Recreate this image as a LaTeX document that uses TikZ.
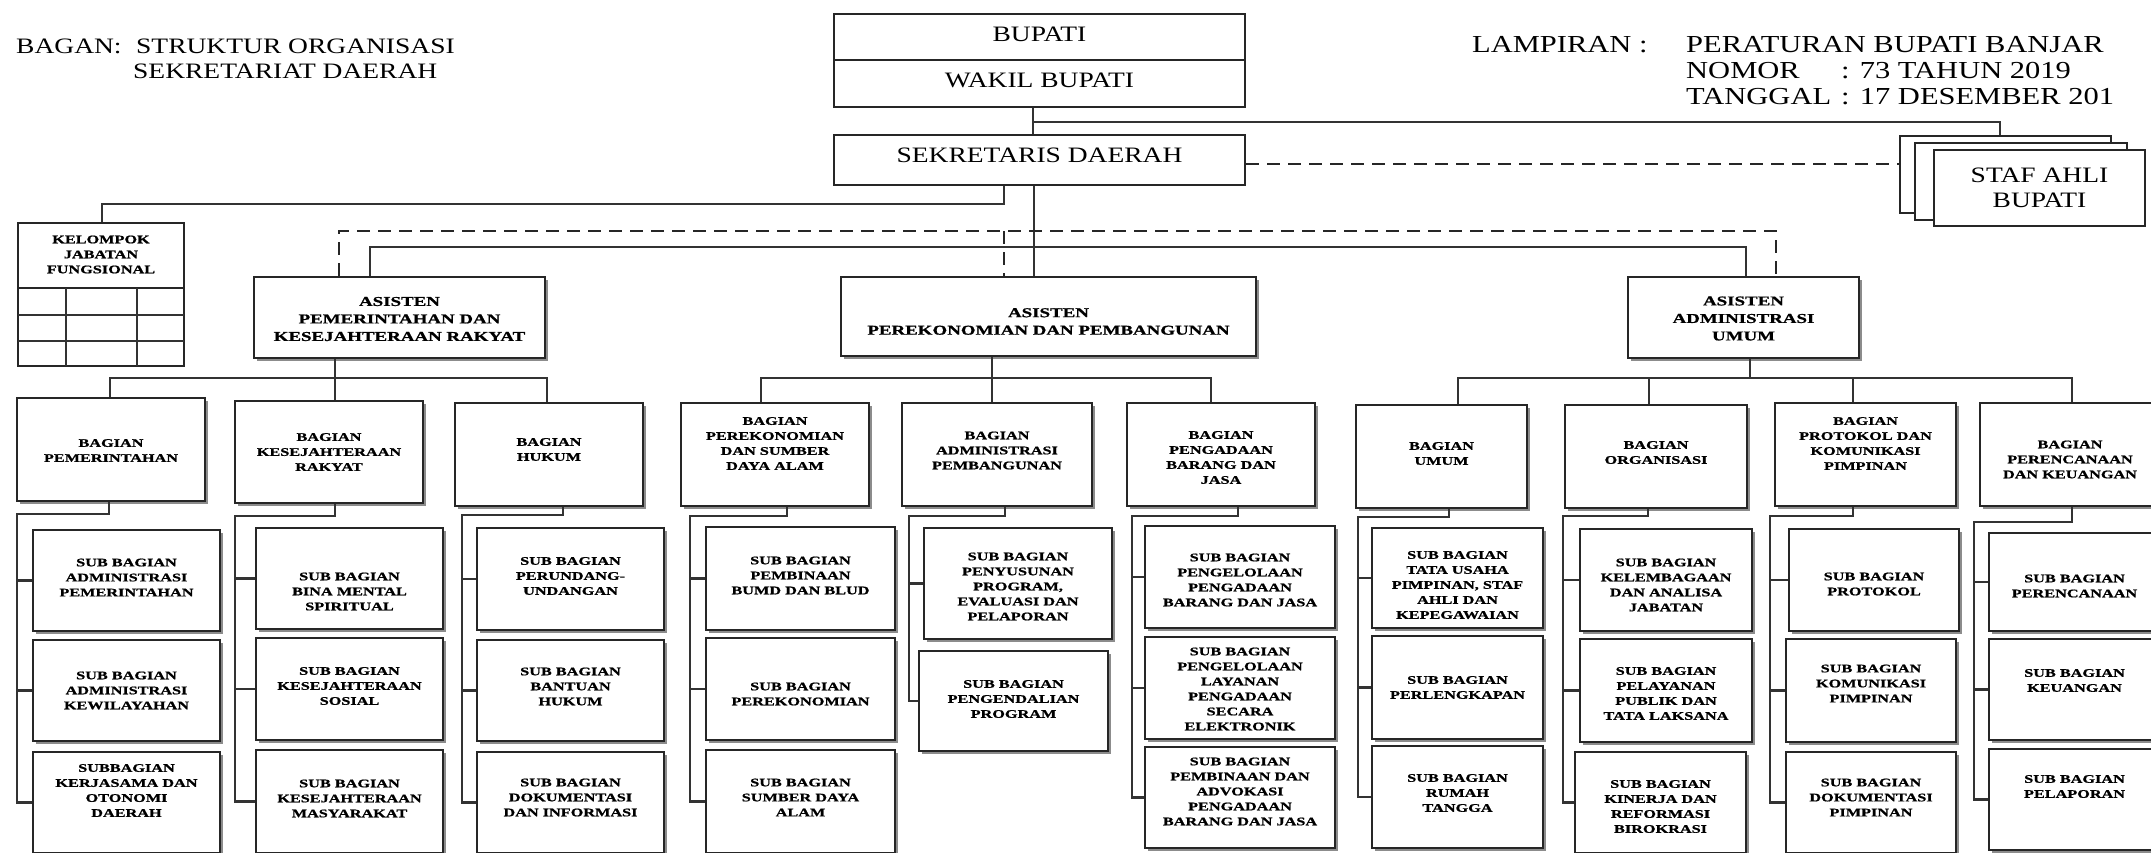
\documentclass[tikz,border=0pt]{standalone}
\usepackage{fontspec}
\setmainfont{Liberation Serif}
\newfontfamily\hdfont[FakeStretch=1.25]{Liberation Serif}
\newfontfamily\bxfont[FakeStretch=1.4, FakeBold=1]{Liberation Serif}
\usetikzlibrary{shadows}
\tikzset{
  conn/.style={line width=2.4pt, draw=black!80},
  dsh/.style={line width=2.4pt, draw=black!85, dash pattern=on 13pt off 8pt},
  plain/.style={rectangle, draw=black!85, line width=2.6pt, fill=white, inner sep=0pt},
  sbox/.style={plain, drop shadow={shadow xshift=3pt, shadow yshift=-3pt, fill=black!45, opacity=1}},
  btxt/.style={font=\bxfont\bfseries\fontsize{11.6}{15}\selectfont, align=center, inner sep=0pt},
  atxt/.style={font=\bxfont\bfseries\fontsize{13.5}{17.5}\selectfont, align=center, inner sep=0pt},
  hdt/.style={font=\hdfont\fontsize{22}{25}\selectfont, align=center, inner sep=0pt},
  hd/.style={font=\hdfont\fontsize{22}{26}\selectfont, inner sep=0pt},
  lp/.style={font=\hdfont\fontsize{24.4}{26}\selectfont, inner sep=0pt}
}
% #1 text shift, #2 box style, #3 text style, #4 name, #5-#8 corners, #9 text
\newcommand\bx[9][0]{%
  \node[#2, minimum width={#7-#5}, minimum height={#8-#6}] (#4) at ({(#5+#7)/2},{(#6+#8)/2}) {};
  \node[#3] (#4-t) at ([yshift=#1]#4.center) {#9};}
% #1 bagian, #2 stem coord, #3 rail coord, #4 #5 #6 sub boxes
\newcommand\colconn[6]{%
  \draw[conn] (#2 |- #1.south) -- (#2) -- (#3) -- (#3 |- #6.west) -- (#6.west);
  \draw[conn] (#3 |- #4.west) -- (#4.west);
  \draw[conn] (#3 |- #5.west) -- (#5.west);}
\begin{document}
\begin{tikzpicture}[x=1pt, y=-1pt]
\useasboundingbox (0,0) rectangle (2151,852);
\fill[white] (0,0) rectangle (2151,852);
\clip (0,0) rectangle (2151,852);

% headings
\node[hd, anchor=base west] (bagan) at (16,53) {BAGAN:};
\node[hd, anchor=base west] (judul1) at (136,53) {STRUKTUR ORGANISASI};
\node[hd, anchor=base west] (judul2) at (133,78) {SEKRETARIAT DAERAH};
\node[lp, anchor=base west] (lamp) at (1472,52) {LAMPIRAN :};
\node[lp, anchor=base west] (perb) at (1686,52) {PERATURAN BUPATI BANJAR};
\node[lp, anchor=base west] (nom) at (1686,78) {NOMOR};
\node[lp, anchor=base west] (nomv) at (1841,78) {: 73 TAHUN 2019};
\node[lp, anchor=base west] (tgl) at (1686,104) {TANGGAL};
\node[lp, anchor=base west] (tglv) at (1841,104) {: 17 DESEMBER 201};

% top boxes
\bx[2.5]{plain}{hdt}{bupati}{834}{14}{1245}{60}{BUPATI}
\bx[3.5]{plain}{hdt}{wakil}{834}{60}{1245}{107}{WAKIL BUPATI}
\bx[5]{plain}{hdt}{sekda}{834}{135}{1245}{185}{SEKRETARIS DAERAH}
\bx{plain}{hdt}{stA}{1900}{136}{2111}{213}{}
\bx{plain}{hdt}{stB}{1915}{143}{2127}{220}{}
\bx{plain}{hdt}{stC}{1934}{150}{2145}{226}{STAF AHLI\\BUPATI}

% kelompok jabatan fungsional
\bx{plain}{btxt}{kjf}{18}{223}{184}{366}{}
\bx[1]{plain}{btxt}{kjfh}{18}{223}{184}{288}{KELOMPOK\\JABATAN\\FUNGSIONAL}
\draw[conn] (18,315) -- (184,315);
\draw[conn] (18,341) -- (184,341);
\draw[conn] (66,288) -- (66,366);
\draw[conn] (137,288) -- (137,366);

% asisten
\bx[-1.5]{sbox}{atxt}{as1}{254}{277}{545}{358}{ASISTEN\\PEMERINTAHAN DAN\\KESEJAHTERAAN RAKYAT}
\bx[-5]{sbox}{atxt}{as2}{841}{277}{1256}{356}{ASISTEN\\PEREKONOMIAN DAN PEMBANGUNAN}
\bx[-1]{sbox}{atxt}{as3}{1628}{277}{1859}{358}{ASISTEN\\ADMINISTRASI\\UMUM}

% bagian
\bx[-1]{sbox}{btxt}{bpem}{17}{398}{205}{501}{BAGIAN\\PEMERINTAHAN}
\bx[0]{sbox}{btxt}{bkes}{235}{401}{423}{503}{BAGIAN\\KESEJAHTERAAN\\RAKYAT}
\bx[5]{sbox}{btxt}{bhuk}{455}{403}{643}{506}{BAGIAN\\HUKUM}
\bx[11]{sbox}{btxt}{bsda}{681}{403}{869}{506}{BAGIAN\\PEREKONOMIAN\\DAN SUMBER\\DAYA ALAM}
\bx[4]{sbox}{btxt}{badm}{902}{403}{1092}{506}{BAGIAN\\ADMINISTRASI\\PEMBANGUNAN}
\bx[-3]{sbox}{btxt}{bpbj}{1127}{403}{1315}{506}{BAGIAN\\PENGADAAN\\BARANG DAN\\JASA}
\bx[3]{sbox}{btxt}{bumu}{1356}{405}{1527}{508}{BAGIAN\\UMUM}
\bx[4]{sbox}{btxt}{borg}{1565}{405}{1747}{508}{BAGIAN\\ORGANISASI}
\bx[11]{sbox}{btxt}{bpro}{1775}{403}{1956}{506}{BAGIAN\\PROTOKOL DAN\\KOMUNIKASI\\PIMPINAN}
\bx[-5]{sbox}{btxt}{bren}{1980}{403}{2160}{506}{BAGIAN\\PERENCANAAN\\DAN KEUANGAN}

% sub bagian col 1
\bx[3]{sbox}{btxt}{s11}{33}{530}{220}{631}{SUB BAGIAN\\ADMINISTRASI\\PEMERINTAHAN}
\bx[0]{sbox}{btxt}{s12}{33}{640}{220}{741}{SUB BAGIAN\\ADMINISTRASI\\KEWILAYAHAN}
\bx[12]{sbox}{btxt}{s13}{33}{752}{220}{853}{SUBBAGIAN\\KERJASAMA DAN\\OTONOMI\\DAERAH}
% col 2
\bx[-13]{sbox}{btxt}{s21}{256}{528}{443}{629}{SUB BAGIAN\\BINA MENTAL\\SPIRITUAL}
\bx[3]{sbox}{btxt}{s22}{256}{638}{443}{740}{SUB BAGIAN\\KESEJAHTERAAN\\SOSIAL}
\bx[3]{sbox}{btxt}{s23}{256}{750}{443}{853}{SUB BAGIAN\\KESEJAHTERAAN\\MASYARAKAT}
% col 3
\bx[3]{sbox}{btxt}{s31}{477}{528}{664}{630}{SUB BAGIAN\\PERUNDANG-\\UNDANGAN}
\bx[4]{sbox}{btxt}{s32}{477}{640}{664}{741}{SUB BAGIAN\\BANTUAN\\HUKUM}
\bx[5]{sbox}{btxt}{s33}{477}{752}{664}{853}{SUB BAGIAN\\DOKUMENTASI\\DAN INFORMASI}
% col 4
\bx[3]{sbox}{btxt}{s41}{706}{527}{895}{630}{SUB BAGIAN\\PEMBINAAN\\BUMD DAN BLUD}
\bx[-5]{sbox}{btxt}{s42}{706}{638}{895}{740}{SUB BAGIAN\\PEREKONOMIAN}
\bx[4]{sbox}{btxt}{s43}{706}{750}{895}{853}{SUB BAGIAN\\SUMBER DAYA\\ALAM}
% col 5
\bx[-3]{sbox}{btxt}{s51}{924}{528}{1112}{639}{SUB BAGIAN\\PENYUSUNAN\\PROGRAM,\\EVALUASI DAN\\PELAPORAN}
\bx[2]{sbox}{btxt}{s52}{919}{651}{1108}{751}{SUB BAGIAN\\PENGENDALIAN\\PROGRAM}
% col 6
\bx[-3]{sbox}{btxt}{s61}{1145}{526}{1335}{628}{SUB BAGIAN\\PENGELOLAAN\\PENGADAAN\\BARANG DAN JASA}
\bx[-1]{sbox}{btxt}{s62}{1145}{637}{1335}{739}{SUB BAGIAN\\PENGELOLAAN\\LAYANAN\\PENGADAAN\\SECARA\\ELEKTRONIK}
\bx[6]{sbox}{btxt}{s63}{1145}{747}{1335}{848}{SUB BAGIAN\\PEMBINAAN DAN\\ADVOKASI\\PENGADAAN\\BARANG DAN JASA}
% col 7
\bx[-7]{sbox}{btxt}{s71}{1372}{528}{1543}{628}{SUB BAGIAN\\TATA USAHA\\PIMPINAN, STAF\\AHLI DAN\\KEPEGAWAIAN}
\bx[0]{sbox}{btxt}{s72}{1372}{636}{1543}{739}{SUB BAGIAN\\PERLENGKAPAN}
\bx[4]{sbox}{btxt}{s73}{1372}{746}{1543}{848}{SUB BAGIAN\\RUMAH\\TANGGA}
% col 8
\bx[-5]{sbox}{btxt}{s81}{1580}{529}{1752}{631}{SUB BAGIAN\\KELEMBAGAAN\\DAN ANALISA\\JABATAN}
\bx[-3]{sbox}{btxt}{s82}{1580}{639}{1752}{742}{SUB BAGIAN\\PELAYANAN\\PUBLIK DAN\\TATA LAKSANA}
\bx[-4]{sbox}{btxt}{s83}{1575}{752}{1746}{853}{SUB BAGIAN\\KINERJA DAN\\REFORMASI\\BIROKRASI}
% col 9
\bx[-4]{sbox}{btxt}{s91}{1789}{529}{1959}{631}{SUB BAGIAN\\PROTOKOL}
\bx[7]{sbox}{btxt}{s92}{1786}{639}{1956}{742}{SUB BAGIAN\\KOMUNIKASI\\PIMPINAN}
\bx[5]{sbox}{btxt}{s93}{1786}{752}{1956}{853}{SUB BAGIAN\\DOKUMENTASI\\PIMPINAN}
% col 10
\bx[-4]{sbox}{btxt}{s101}{1989}{533}{2160}{631}{SUB BAGIAN\\PERENCANAAN}
\bx[9]{sbox}{btxt}{s102}{1989}{639}{2160}{740}{SUB BAGIAN\\KEUANGAN}
\bx[13]{sbox}{btxt}{s103}{1989}{749}{2160}{850}{SUB BAGIAN\\PELAPORAN}

% ---- connectors, top
\draw[conn] ([xshift=-6.5]wakil.south) -- ([xshift=-6.5]sekda.north);
\coordinate (bs) at (1033,122);
\draw[conn] (bs) -| ([xshift=-5.5]stA.north);
\draw[dsh] ([yshift=-4]sekda.east) -- ([yshift=-4]sekda.east -| stA.west);
\coordinate (jk) at (102,204);
\draw[conn] ([xshift=-35.5]sekda.south) |- (jk) -- (jk |- kjf.north);
\draw[conn] ([xshift=-5.5]sekda.south) -- ([xshift=-5.5]sekda.south |- as2.north);
\coordinate (h1) at (370,247);
\coordinate (h2) at (1746,247);
\draw[conn] (h1 |- as1.north) -- (h1) -- (h2) -- (h2 |- as3.north);
\coordinate (d1) at (339,231);
\coordinate (d2) at (1776,231);
\coordinate (d3) at (1004,231);
\draw[dsh] (d1 |- as1.north) -- (d1) -- (d2) -- (d2 |- as3.north);
\draw[dsh] (d3) -- (d3 |- as2.north);

% asisten -> bagian
\coordinate (r1) at (110,378);
\coordinate (r2) at (335,378);
\coordinate (r3) at (547,378);
\draw[conn] (r1 |- bpem.north) -- (r1) -- (r3) -- (r3 |- bhuk.north);
\draw[conn] (r2 |- as1.south) -- (r2 |- bkes.north);
\coordinate (r4) at (761,378);
\coordinate (r5) at (992,378);
\coordinate (r6) at (1211,378);
\draw[conn] (r4 |- bsda.north) -- (r4) -- (r6) -- (r6 |- bpbj.north);
\draw[conn] (r5 |- as2.south) -- (r5 |- badm.north);
\coordinate (r7) at (1458,378);
\coordinate (r8) at (1649,378);
\coordinate (r9) at (1853,378);
\coordinate (r10) at (2072,378);
\coordinate (r11) at (1750,378);
\draw[conn] (r7 |- bumu.north) -- (r7) -- (r10) -- (r10 |- bren.north);
\draw[conn] (r11 |- as3.south) -- (r11);
\draw[conn] (r8) -- (r8 |- borg.north);
\draw[conn] (r9) -- (r9 |- bpro.north);

% bagian -> sub bagian
\coordinate (k1a) at (109,514);  \coordinate (k1b) at (17,514);
\coordinate (k2a) at (335,516);  \coordinate (k2b) at (235,516);
\coordinate (k3a) at (563,515);  \coordinate (k3b) at (462,515);
\coordinate (k4a) at (787,516);  \coordinate (k4b) at (690,516);
\coordinate (k5a) at (1005,516); \coordinate (k5b) at (909,516);
\coordinate (k6a) at (1238,516); \coordinate (k6b) at (1132,516);
\coordinate (k7a) at (1449,517); \coordinate (k7b) at (1358,517);
\coordinate (k8a) at (1648,516); \coordinate (k8b) at (1563,516);
\coordinate (k9a) at (1853,516); \coordinate (k9b) at (1770,516);
\coordinate (k10a) at (2072,522); \coordinate (k10b) at (1974,522);
\colconn{bpem}{k1a}{k1b}{s11}{s12}{s13}
\colconn{bkes}{k2a}{k2b}{s21}{s22}{s23}
\colconn{bhuk}{k3a}{k3b}{s31}{s32}{s33}
\colconn{bsda}{k4a}{k4b}{s41}{s42}{s43}
\colconn{badm}{k5a}{k5b}{s51}{s52}{s52}
\colconn{bpbj}{k6a}{k6b}{s61}{s62}{s63}
\colconn{bumu}{k7a}{k7b}{s71}{s72}{s73}
\colconn{borg}{k8a}{k8b}{s81}{s82}{s83}
\colconn{bpro}{k9a}{k9b}{s91}{s92}{s93}
\colconn{bren}{k10a}{k10b}{s101}{s102}{s103}
\end{tikzpicture}
\end{document}
